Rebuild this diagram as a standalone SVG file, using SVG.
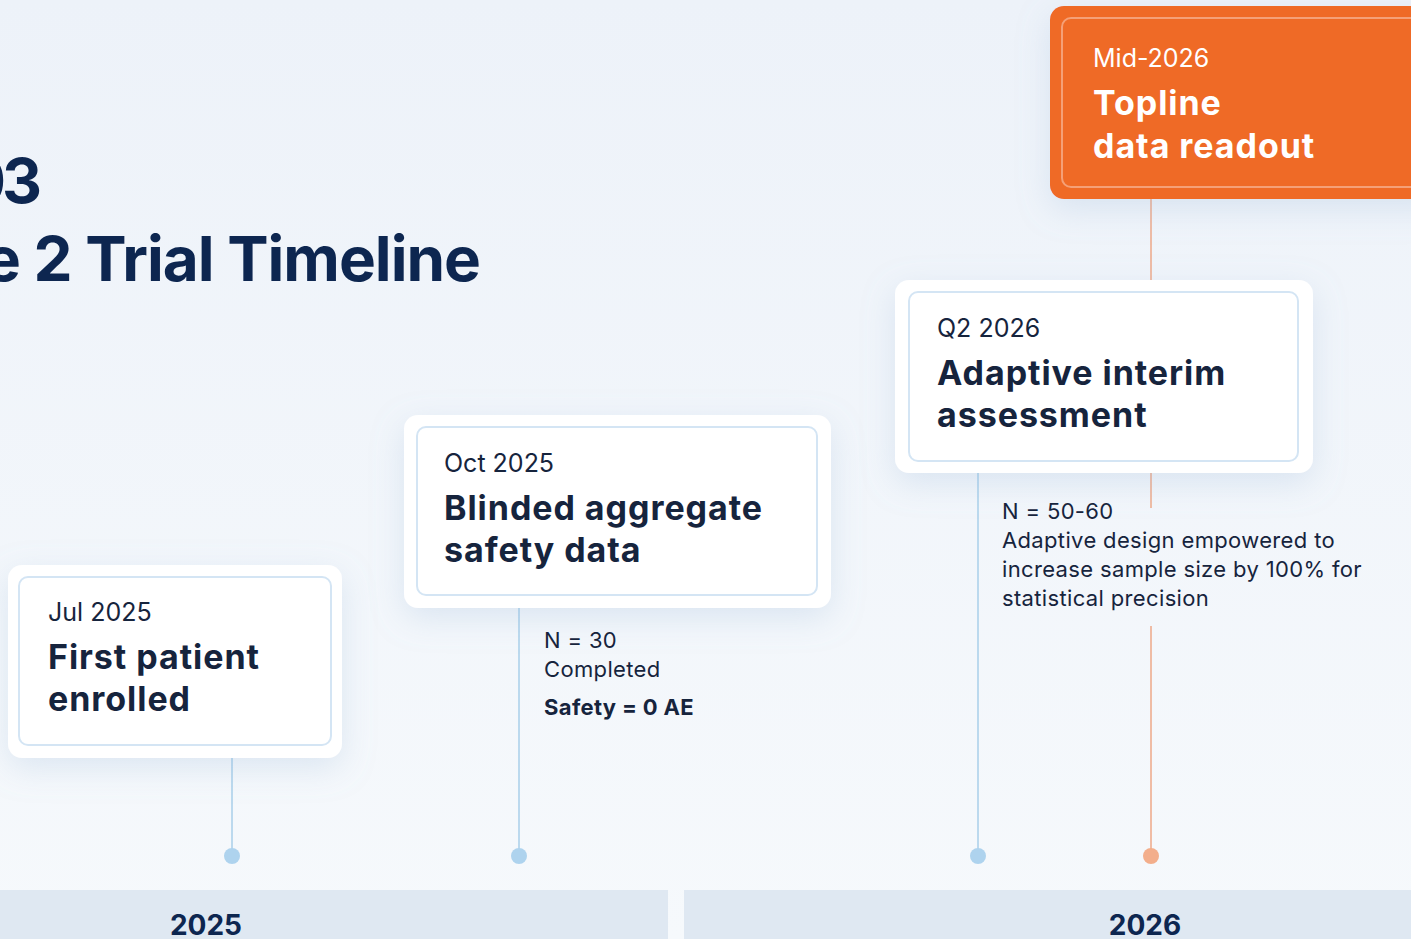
<svg xmlns="http://www.w3.org/2000/svg" width="1411" height="939" viewBox="0 0 1411 939">
  <defs>
    <linearGradient id="bg" x1="0" y1="0" x2="0" y2="1">
      <stop offset="0" stop-color="#edf2f9"/>
      <stop offset="1" stop-color="#f6f9fc"/>
    </linearGradient>
    <filter id="soft" x="-20%" y="-20%" width="140%" height="160%">
      <feDropShadow dx="0" dy="10" stdDeviation="16" flood-color="#8fb0d4" flood-opacity="0.25"/>
    </filter>
    <style>
      text { font-family: Inter, "Liberation Sans", sans-serif; }
      .title { font-size: 62px; font-weight: 700; fill: #0d2650; letter-spacing: -1px; }
      .date { font-size: 25px; font-weight: 400; fill: #16243d; }
      .head { font-size: 34px; font-weight: 700; fill: #16243d; letter-spacing: 0.95px; }
      .note { font-size: 22px; font-weight: 400; fill: #16243d; letter-spacing: 0.35px; }
      .noteb { font-size: 22px; font-weight: 700; fill: #16243d; letter-spacing: 0.35px; }
      .year { font-size: 28px; font-weight: 700; fill: #0d2650; text-anchor: middle; }
      .outer { fill: #ffffff; }
      .inner { fill: #ffffff; stroke: #d4e5f4; stroke-width: 2; }
      .link { stroke: #a9cfea; stroke-width: 1.5; fill: none; }
      .link-hot { stroke: #eea888; stroke-width: 1.5; fill: none; }
      .dot { fill: #aed3ee; }
      .dot-hot { fill: #f3ae8b; }
      .on-hot { fill: #ffffff; }
    </style>
  </defs>

  <!-- backdrop -->
  <rect x="0" y="0" width="1411" height="939" fill="url(#bg)"/>

  <!-- year band -->
  <g id="years">
    <rect x="0" y="890" width="668" height="49" fill="#dfe8f2"/>
    <rect x="684" y="890" width="727" height="49" fill="#dfe8f2"/>
    <text class="year" x="206" y="935">2025</text>
    <text class="year" x="1145" y="935">2026</text>
  </g>

  <!-- heading -->
  <g id="title">
    <text class="title" x="38" y="203" text-anchor="end" style="letter-spacing:-4px">03</text>
    <text class="title" x="480" y="281" text-anchor="end">e 2 Trial Timeline</text>
  </g>

  <!-- connectors -->
  <g id="connectors">
    <line class="link" x1="232" y1="745" x2="232" y2="856"/>
    <line class="link" x1="519" y1="595" x2="519" y2="856"/>
    <line class="link" x1="978" y1="461" x2="978" y2="856"/>
    <line class="link-hot" x1="1151" y1="199" x2="1151" y2="282"/>
    <line class="link-hot" x1="1151" y1="472" x2="1151" y2="508"/>
    <line class="link-hot" x1="1151" y1="626" x2="1151" y2="856"/>
    <circle class="dot" cx="232" cy="856" r="8"/>
    <circle class="dot" cx="519" cy="856" r="8"/>
    <circle class="dot" cx="978" cy="856" r="8"/>
    <circle class="dot-hot" cx="1151" cy="856" r="8"/>
  </g>

  <!-- milestone: first patient -->
  <g id="m-jul-2025">
    <rect class="outer" x="8" y="565" width="334" height="193" rx="14" filter="url(#soft)"/>
    <rect class="inner" x="19" y="577" width="312" height="168" rx="9"/>
    <text class="date" x="48" y="621">Jul 2025</text>
    <text class="head" x="48" y="669">First patient</text>
    <text class="head" x="48" y="711">enrolled</text>
  </g>

  <!-- milestone: blinded safety data -->
  <g id="m-oct-2025">
    <rect class="outer" x="404" y="415" width="427" height="193" rx="14" filter="url(#soft)"/>
    <rect class="inner" x="417" y="427" width="400" height="168" rx="9"/>
    <text class="date" x="444" y="472">Oct 2025</text>
    <text class="head" x="444" y="520">Blinded aggregate</text>
    <text class="head" x="444" y="562">safety data</text>
    <text class="note" x="544" y="648">N = 30</text>
    <text class="note" x="544" y="677">Completed</text>
    <text class="noteb" x="544" y="715">Safety = 0 AE</text>
  </g>

  <!-- milestone: adaptive interim -->
  <g id="m-q2-2026">
    <rect class="outer" x="895" y="280" width="418" height="193" rx="14" filter="url(#soft)"/>
    <rect class="inner" x="909" y="292" width="389" height="169" rx="9"/>
    <text class="date" x="937" y="337">Q2 2026</text>
    <text class="head" x="937" y="385">Adaptive interim</text>
    <text class="head" x="937" y="427">assessment</text>
    <text class="note" x="1002" y="519">N = 50-60</text>
    <text class="note" x="1002" y="548">Adaptive design empowered to</text>
    <text class="note" x="1002" y="577">increase sample size by 100% for</text>
    <text class="note" x="1002" y="606">statistical precision</text>
  </g>

  <!-- milestone: topline readout -->
  <g id="m-mid-2026">
    <rect x="1050" y="6" width="400" height="193" rx="14" fill="#ef6a28" filter="url(#soft)"/>
    <rect x="1062" y="18" width="380" height="169" rx="9" fill="none" stroke="#f5a077" stroke-width="2"/>
    <text class="date on-hot" x="1093" y="67">Mid-2026</text>
    <text class="head on-hot" x="1093" y="115">Topline</text>
    <text class="head on-hot" x="1093" y="158">data readout</text>
  </g>
</svg>
